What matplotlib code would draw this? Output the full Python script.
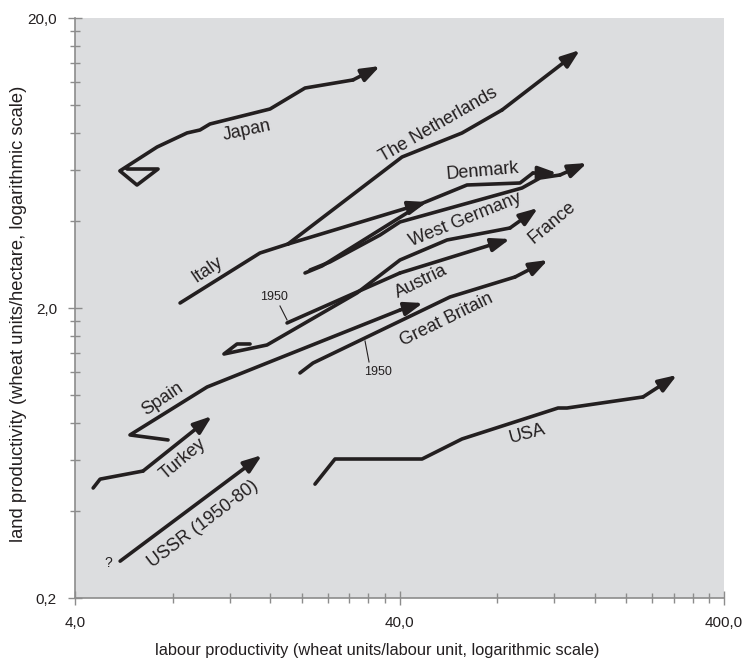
import matplotlib
matplotlib.use("Agg")
import matplotlib.pyplot as plt
from matplotlib.ticker import FixedLocator, NullFormatter

plt.rcParams['font.family'] = ['Liberation Sans', 'DejaVu Sans']

# ---- data (labour productivity x, land productivity y) ----
japan_x = [5.79, 7.21, 6.21, 5.50, 7.16, 8.86, 9.71, 10.42, 15.96, 20.46, 28.76, 34.84]
japan_y = [6.03, 6.03, 5.31, 5.94, 7.18, 8.03, 8.22, 8.62, 9.71, 11.47, 12.23, 13.66]

netherlands_x = [18.13, 40.72, 62.33, 82.79, 143.98]
netherlands_y = [3.324, 6.633, 8.026, 9.634, 15.51]

italy_x = [8.43, 14.86, 18.13, 48.63]
italy_y = [2.081, 3.095, 3.324, 4.641]

denmark_x = [20.46, 23.08, 47.27, 64.58, 94.06, 103.1, 122.3]
denmark_y = [2.641, 2.792, 4.605, 5.311, 5.396, 5.841, 5.841]

wgermany_x = [21.20, 24.42, 34.84, 40.14, 95.42, 108.4, 124.9, 151.3]
wgermany_y = [2.704, 2.882, 3.570, 3.960, 5.186, 5.615, 5.750, 6.324]

france_x = [13.85, 12.63, 11.51, 15.62, 29.59, 40.14, 56.03, 87.61, 106.9]
france_y = [1.503, 1.503, 1.388, 1.491, 2.254, 2.928, 3.432, 3.775, 4.425]

austria_x = [18.01, 29.59, 40.14, 87.61]
austria_y = [1.776, 2.271, 2.641, 3.459]

spain_x = [7.74, 5.91, 10.21, 15.62, 40.14, 47.27]
spain_y = [0.7015, 0.7299, 1.068, 1.292, 1.968, 2.081]

britain_x = [19.74, 21.65, 57.24, 90.78, 114.7]
britain_y = [1.194, 1.292, 2.183, 2.558, 2.928]

turkey_x = [4.55, 4.78, 6.48, 10.57]
turkey_y = [0.479, 0.514, 0.548, 0.848]

ussr_x = [5.51, 15.08]
ussr_y = [0.268, 0.622]

usa_x = [21.96, 25.31, 46.94, 62.33, 123.2, 131.3, 225.2, 286.6]
usa_y = [0.494, 0.603, 0.603, 0.707, 0.904, 0.904, 0.987, 1.175]

series = [
    (japan_x, japan_y), (netherlands_x, netherlands_y), (italy_x, italy_y),
    (denmark_x, denmark_y), (wgermany_x, wgermany_y), (france_x, france_y),
    (austria_x, austria_y), (spain_x, spain_y), (britain_x, britain_y),
    (turkey_x, turkey_y), (ussr_x, ussr_y), (usa_x, usa_y),
]

label_texts = ["Japan", "The Netherlands", "Denmark", "West Germany", "France",
               "Austria", "Great Britain", "Italy", "Spain", "Turkey",
               "USSR (1950-80)", "USA"]
label_x = [13.56, 52.56, 72.35, 63.67, 118.1, 46.6, 56.03, 10.21, 7.42, 8.61, 9.92, 98.85]
label_y = [8.154, 8.552, 5.935, 4.023, 3.928, 2.458, 1.819, 2.704, 0.971, 0.603, 0.360, 0.7355]
label_rot = [12, 30, 5, 22, 40, 26, 26, 34, 34, 40, 37, 15]

x_major = [4, 40, 400]
x_major_labels = ["4,0", "40,0", "400,0"]
y_major = [0.2, 2, 20]
y_major_labels = ["0,2", "2,0", "20,0"]

LINE = '#231f20'
BG = '#dcdddf'
AX = '#8c8c8c'

fig = plt.figure(figsize=(7.44, 6.64), dpi=100)
ax = fig.add_axes([75/744, 1-598/664, (724-75)/744, (598-18)/664])
ax.set_facecolor(BG)
ax.set_xscale('log')
ax.set_yscale('log')
ax.set_xlim(4, 400)
ax.set_ylim(0.2, 20)

for xs, ys in series:
    ax.plot(xs[:-1], ys[:-1], color=LINE, lw=2.6, solid_capstyle='round',
            solid_joinstyle='round', zorder=3)
    ax.annotate('', xy=(xs[-1], ys[-1]), xytext=(xs[-2], ys[-2]),
                arrowprops=dict(arrowstyle='-|>,head_length=0.55,head_width=0.2',
                                lw=2.6, color=LINE, shrinkA=0, shrinkB=0,
                                mutation_scale=20, capstyle='round'),
                zorder=3)

for t, lx, ly, r in zip(label_texts, label_x, label_y, label_rot):
    ax.text(lx, ly, t, rotation=r, rotation_mode='anchor', ha='center', va='center',
            fontsize=13, color=LINE, zorder=4)

# 1950 annotations
ax.text(16.42, 2.183, "1950", fontsize=9, ha='center', va='center', color=LINE)
ax.plot([17.13, 18.01], [2.032, 1.819], color=LINE, lw=0.8)
ax.text(34.35, 1.203, "1950", fontsize=9, ha='center', va='center', color=LINE)
ax.plot([32.22, 31.32], [1.303, 1.539], color=LINE, lw=0.8)
ax.text(5.055, 0.2641, "?", fontsize=10, ha='center', va='center', color=LINE)

for s in ['top', 'right']:
    ax.spines[s].set_visible(False)
for s in ['left', 'bottom']:
    ax.spines[s].set_color(AX)
    ax.spines[s].set_linewidth(1.2)

ax.xaxis.set_major_locator(FixedLocator(x_major))
ax.set_xticklabels(x_major_labels)
ax.yaxis.set_major_locator(FixedLocator(y_major))
ax.set_yticklabels(y_major_labels)
xmin = [4*k for k in range(2, 10)] + [40*k for k in range(2, 10)]
ymin = [round(0.2*k, 2) for k in range(2, 10)] + [2*k for k in range(2, 10)]
ax.xaxis.set_minor_locator(FixedLocator(xmin))
ax.yaxis.set_minor_locator(FixedLocator(ymin))
ax.xaxis.set_minor_formatter(NullFormatter())
ax.yaxis.set_minor_formatter(NullFormatter())
ax.tick_params(which='major', direction='inout', length=10, width=1, color=AX,
               labelsize=11, labelcolor=LINE, pad=8)
ax.tick_params(which='minor', direction='inout', length=7, width=1, color=AX)

fig.text(377/744, 1-650/664, "labour productivity (wheat units/labour unit, logarithmic scale)",
         ha='center', va='center', fontsize=11.8, color=LINE)
fig.text(19/744, 1-314/664, "land productivity (wheat units/hectare, logarithmic scale)",
         ha='center', va='center', rotation=90, fontsize=13.2, color=LINE)

fig.savefig("out.png", dpi=100)
